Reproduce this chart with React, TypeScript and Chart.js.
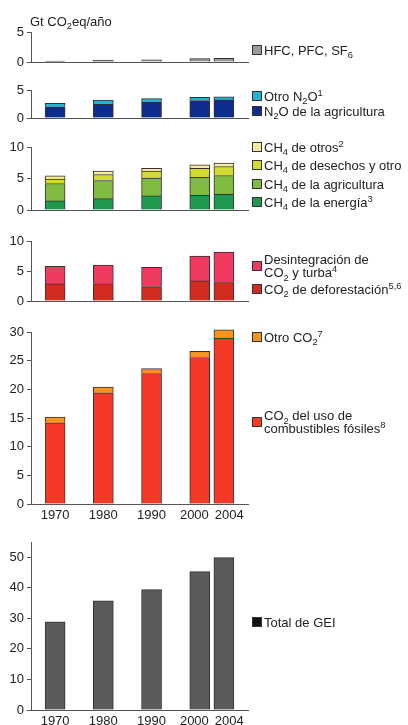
import React, { useEffect, useRef } from "react";
import { Chart, registerables } from "chart.js";
Chart.register(...registerables);

// ---- data (Gt CO2eq / año) ----
const years = ["1970", "1980", "1990", "2000", "2004"];
const slotLabels = ["", "1970", "", "1980", "", "1990", "", "2000", "2004", ""];

const hfcPfcSf6 = [0.15, 0.3, 0.35, 0.55, 0.6];
const n2oAgri = [2.07, 2.5, 2.98, 3.2, 3.33];
const n2oOther = [0.63, 0.78, 0.57, 0.6, 0.57];
const ch4Energy = [1.44, 1.8, 2.23, 2.34, 2.5];
const ch4Agri = [2.76, 2.88, 2.82, 2.86, 2.97];
const ch4Waste = [0.7, 0.96, 1.12, 1.4, 1.43];
const ch4Other = [0.52, 0.53, 0.43, 0.58, 0.55];
const co2Deforest = [2.85, 2.9, 2.4, 3.35, 3.25];
const co2Decay = [2.91, 3.08, 3.2, 4.14, 4.91];
const co2Fossil = [14.16, 19.4, 22.76, 25.55, 28.9];
const co2Other = [0.99, 1.0, 0.84, 1.1, 1.5];
const totalGhg = [28.85, 35.7, 39.4, 45.3, 49.9];

const toSlots = (vals: number[]) =>
  slotLabels.map((l) => {
    const i = years.indexOf(l);
    return i >= 0 ? vals[i] : null;
  });

const FONT = '"Liberation Sans", Arial, Helvetica, sans-serif';
const FS = 13;
const AXIS = "#555555";
const TEXT = "#222222";
const EDGE = "#3a3030";

type LegendItem = { lines: string[]; color: string; y: number };
type Panel = {
  canvasTop: number;
  height: number;
  top: number;
  zero: number;
  max: number;
  ticks: number[];
  showX: boolean;
  title?: string;
  series: { data: number[]; color: string }[];
  legend: LegendItem[];
};

const panels: Panel[] = [
  {
    canvasTop: 0, height: 80, top: 32, zero: 62, max: 5, ticks: [0, 5], showX: false,
    title: "Gt CO{_2}eq/año",
    series: [{ data: hfcPfcSf6, color: "#9a9a9a" }],
    legend: [{ lines: ["HFC, PFC, SF{_6}"], color: "#9a9a9a", y: 50 }],
  },
  {
    canvasTop: 80, height: 50, top: 89, zero: 118, max: 5, ticks: [0, 5], showX: false,
    series: [
      { data: n2oAgri, color: "#0c2c8e" },
      { data: n2oOther, color: "#22b2d4" },
    ],
    legend: [
      { lines: ["Otro N{_2}O{^1}"], color: "#22b2d4", y: 96 },
      { lines: ["N{_2}O de la agricultura"], color: "#0c2c8e", y: 111 },
    ],
  },
  {
    canvasTop: 130, height: 92, top: 147, zero: 210, max: 10, ticks: [0, 5, 10], showX: false,
    series: [
      { data: ch4Energy, color: "#1f9850" },
      { data: ch4Agri, color: "#7fbb3e" },
      { data: ch4Waste, color: "#d2dc30" },
      { data: ch4Other, color: "#f2eca2" },
    ],
    legend: [
      { lines: ["CH{_4} de otros{^2}"], color: "#f2eca2", y: 147 },
      { lines: ["CH{_4} de desechos y otro"], color: "#d2dc30", y: 165 },
      { lines: ["CH{_4} de la agricultura"], color: "#7fbb3e", y: 184 },
      { lines: ["CH{_4} de la energía{^3}"], color: "#1f9850", y: 202 },
    ],
  },
  {
    canvasTop: 222, height: 100, top: 241, zero: 301, max: 10, ticks: [0, 5, 10], showX: false,
    series: [
      { data: co2Deforest, color: "#d22b20" },
      { data: co2Decay, color: "#f03a5f" },
    ],
    legend: [
      { lines: ["Desintegración de", "CO{_2} y turba{^4}"], color: "#f03a5f", y: 266 },
      { lines: ["CO{_2} de deforestación{^5,6}"], color: "#d22b20", y: 289 },
    ],
  },
  {
    canvasTop: 320, height: 205, top: 332, zero: 504, max: 30, ticks: [0, 5, 10, 15, 20, 25, 30], showX: true,
    series: [
      { data: co2Fossil, color: "#f43a26" },
      { data: co2Other, color: "#f7941e" },
    ],
    legend: [
      { lines: ["Otro CO{_2}{^7}"], color: "#f7941e", y: 337 },
      { lines: ["CO{_2} del uso de", "combustibles fósiles{^8}"], color: "#f43a26", y: 422 },
    ],
  },
  {
    canvasTop: 525, height: 200, top: 542, zero: 710, max: 55, ticks: [0, 10, 20, 30, 40, 50], showX: true,
    series: [{ data: totalGhg, color: "#5b5b5b" }],
    legend: [{ lines: ["Total de GEI"], color: "#111111", y: 622 }],
  },
];

function drawRich(ctx: CanvasRenderingContext2D, x: number, y: number, text: string, size: number) {
  const re = /\{([_^])([^}]*)\}/g;
  const segs: { t: string; k: string }[] = [];
  let last = 0;
  let m: RegExpExecArray | null;
  while ((m = re.exec(text))) {
    if (m.index > last) segs.push({ t: text.slice(last, m.index), k: "" });
    segs.push({ t: m[2], k: m[1] });
    last = re.lastIndex;
  }
  if (last < text.length) segs.push({ t: text.slice(last), k: "" });
  ctx.fillStyle = TEXT;
  ctx.textAlign = "left";
  ctx.textBaseline = "alphabetic";
  const base = y + size * 0.36;
  for (const s of segs) {
    const fs = s.k ? size * 0.72 : size;
    ctx.font = `${fs}px ${FONT}`;
    const dy = s.k === "_" ? size * 0.28 : s.k === "^" ? -size * 0.36 : 0;
    ctx.fillText(s.t, x, base + dy);
    x += ctx.measureText(s.t).width;
  }
}

function PanelChart({ p }: { p: Panel }) {
  const ref = useRef<HTMLCanvasElement | null>(null);
  useEffect(() => {
    if (!ref.current) return;
    const padBottom = p.height - (p.zero - p.canvasTop);
    const deco = {
      id: "panelDeco",
      afterDraw(chart: any) {
        const ctx: CanvasRenderingContext2D = chart.ctx;
        ctx.save();
        if (p.title) drawRich(ctx, 30, 21 - p.canvasTop, p.title, FS);
        for (const it of p.legend) {
          const cy = it.y - p.canvasTop;
          ctx.fillStyle = it.color;
          ctx.fillRect(252, cy - 5, 10, 10);
          ctx.strokeStyle = "#333333";
          ctx.lineWidth = 1;
          ctx.strokeRect(252.5, cy - 4.5, 9, 9);
          const n = it.lines.length;
          it.lines.forEach((ln, i) => {
            drawRich(ctx, 264, cy + (i - (n - 1) / 2) * 12.5, ln, FS);
          });
        }
        if (p.showX) {
          const xs = chart.scales.x;
          ctx.font = `${FS}px ${FONT}`;
          const labs = years.map((yr) => {
            const idx = slotLabels.indexOf(yr);
            return { t: yr, c: xs.getPixelForValue(idx), w: ctx.measureText(yr).width };
          });
          // push crowded neighbours apart so labels do not overlap
          for (let i = 1; i < labs.length; i++) {
            const a = labs[i - 1];
            const b = labs[i];
            const need = (a.w + b.w) / 2 + 6;
            const d = b.c - a.c;
            if (d < need) {
              a.c -= (need - d) / 2;
              b.c += (need - d) / 2;
            }
          }
          ctx.fillStyle = TEXT;
          ctx.textAlign = "center";
          ctx.textBaseline = "middle";
          const ly = chart.chartArea.bottom + 11;
          for (const l of labs) ctx.fillText(l.t, l.c, ly);
        }
        ctx.restore();
      },
    };
    const chart = new Chart(ref.current, {
      type: "bar",
      data: {
        labels: slotLabels,
        datasets: p.series.map((s) => ({
          data: toSlots(s.data),
          backgroundColor: s.color,
          borderColor: EDGE,
          borderWidth: 1,
          barThickness: 20,
          clip: false as any,
        })),
      },
      options: {
        responsive: false,
        animation: false,
        layout: { padding: { top: p.top - p.canvasTop, bottom: padBottom, left: 0, right: 160 } },
        plugins: { legend: { display: false }, tooltip: { enabled: false } },
        scales: {
          x: {
            type: "category",
            stacked: true,
            offset: false,
            grid: { display: false, drawTicks: false },
            border: { display: true, color: AXIS, width: 1 },
            ticks: { display: false },
            afterFit: (s: any) => {
              s.height = 0;
            },
          },
          y: {
            stacked: true,
            min: 0,
            max: p.max,
            grid: { drawOnChartArea: false, drawTicks: true, tickLength: 4, color: AXIS },
            border: { display: true, color: AXIS, width: 1 },
            ticks: { padding: 3, color: TEXT, font: { family: FONT, size: FS } },
            afterBuildTicks: (s: any) => {
              s.ticks = p.ticks.map((v) => ({ value: v }));
            },
            afterFit: (s: any) => {
              s.width = 31;
            },
          },
        },
      } as any,
      plugins: [deco],
    });
    return () => chart.destroy();
  }, [p]);
  return (
    <canvas
      ref={ref}
      width={408}
      height={p.height}
      style={{ position: "absolute", left: 0, top: p.canvasTop, width: 408, height: p.height }}
    />
  );
}

export default function App() {
  return (
    <div
      style={{
        position: "absolute",
        left: 0,
        top: 0,
        width: 408,
        height: 725,
        overflow: "hidden",
        background: "#ffffff",
      }}
    >
      {panels.map((p, i) => (
        <PanelChart key={i} p={p} />
      ))}
    </div>
  );
}
